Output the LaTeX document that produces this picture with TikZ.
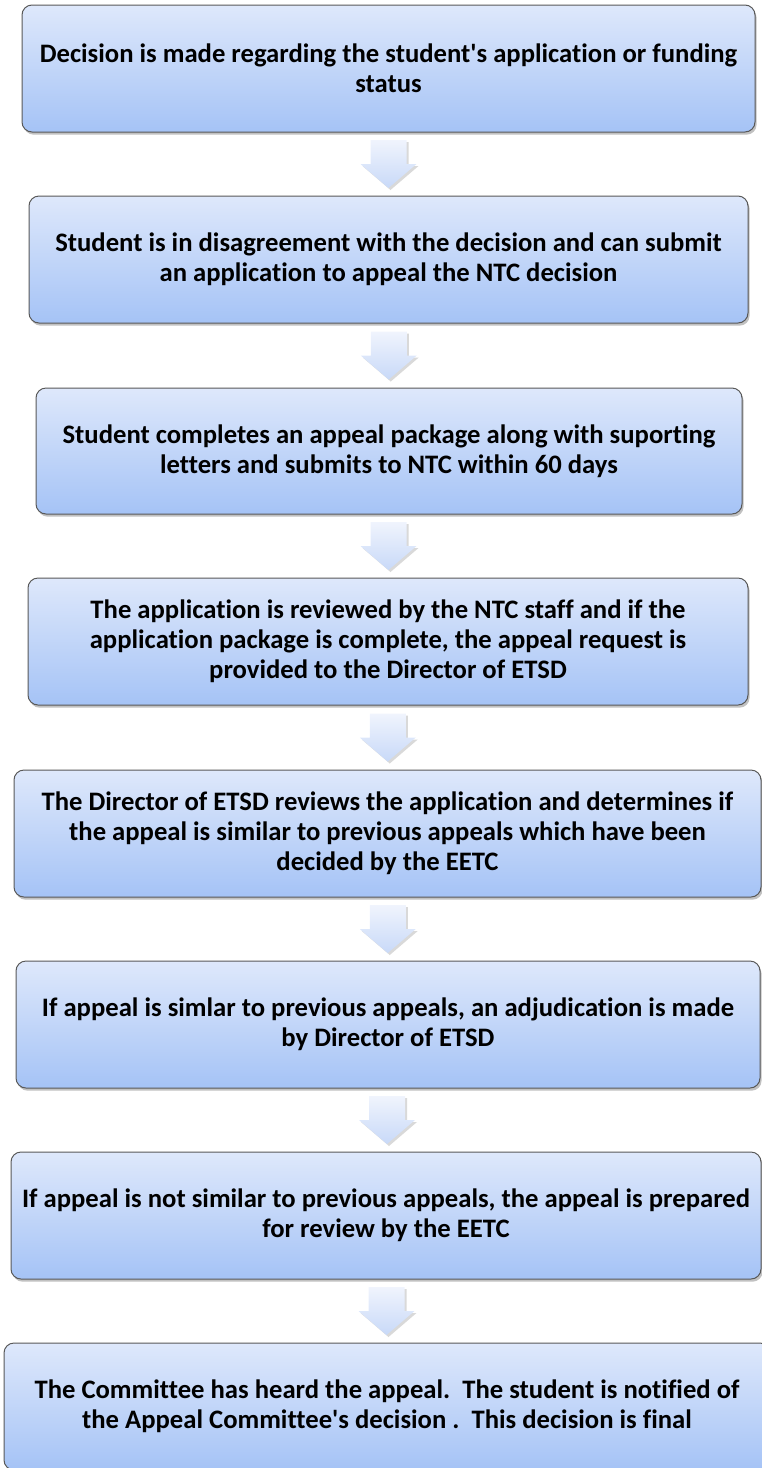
\documentclass[tikz,border=0pt]{standalone}
\usepackage{fontspec}
\setmainfont{Carlito}[Ligatures={TeX,NoCommon}]
\usetikzlibrary{calc,shadows}

\definecolor{boxtop}{HTML}{DEE8FB}
\definecolor{boxbot}{HTML}{A5C3F6}
\definecolor{arrtop}{HTML}{F0F4FD}
\definecolor{arrbot}{HTML}{C8D9F8}

\begin{document}
\begin{tikzpicture}[x=0.75pt,y=-0.75pt,
    stepbox/.style={draw=black!65,line width=0.75pt,rounded corners=7.5pt,
        top color=boxtop,bottom color=boxbot,
        drop shadow={shadow xshift=1.2pt,shadow yshift=-2pt,opacity=0.35,fill=black!70},
        align=center,inner sep=0pt,minimum height=95.25pt,
        font=\fontsize{20pt}{22.5pt}\selectfont\bfseries},
    dnarrow/.style={top color=arrtop,bottom color=arrbot,
        drop shadow={shadow xshift=1.5pt,shadow yshift=-1.5pt,opacity=0.25,fill=black!60}}]
        \useasboundingbox (0,0) rectangle (762,1468);

        \node[stepbox,minimum width=549.75pt] (b1) at (388.5,68.5)
            {Decision is made regarding the student\textquotesingle s application or funding\\status};
        \node[stepbox,minimum width=539.25pt] (b2) at (388.5,259.5)
            {Student is in disagreement with the decision and can submit\\an application to appeal the NTC decision};
        \node[stepbox,minimum width=529.5pt,minimum height=94.5pt] (b3) at (389,451)
            {Student completes an appeal package along with suporting\\letters and submits to NTC within 60 days};
        \node[stepbox,minimum width=540pt] (b4) at (388,641.5)
            {The application is reviewed by the NTC staff and if the\\application package is complete, the appeal request is\\provided to the Director of ETSD};
        \node[stepbox,minimum width=560.25pt] (b5) at (387.5,833.5)
            {The Director of ETSD reviews the application and determines if\\the appeal is similar to previous appeals which have been\\decided by the EETC};
        \node[stepbox,minimum width=558pt] (b6) at (388,1024.5)
            {If appeal is simlar to previous appeals, an adjudication is made\\by Director of ETSD};
        \node[stepbox,minimum width=562.5pt] (b7) at (386,1215.5)
            {If appeal is not similar to previous appeals, the appeal is prepared\\for review by the EETC};
        \node[stepbox,minimum width=574.5pt] (b8) at (387,1406.5)
            {The Committee has heard the appeal.\ \ The student is notified of\\the Appeal Committee\textquotesingle s decision .\ \ This decision is final};

        % block arrows between the steps
        \path[dnarrow] ($(b1.south)!0.5!(b2.north)$) ++(-18,-24) -- ++(36,0) -- ++(0,24) -- ++(10,0) -- ++(-28,24) -- ++(-28,-24) -- ++(10,0) -- cycle;
        \path[dnarrow] ($(b2.south)!0.5!(b3.north)$) ++(-18,-24) -- ++(36,0) -- ++(0,24) -- ++(10,0) -- ++(-28,24) -- ++(-28,-24) -- ++(10,0) -- cycle;
        \path[dnarrow] ($(b3.south)!0.5!(b4.north)$) ++(-18,-24) -- ++(36,0) -- ++(0,24) -- ++(10,0) -- ++(-28,24) -- ++(-28,-24) -- ++(10,0) -- cycle;
        \path[dnarrow] ($(b4.south)!0.5!(b5.north)$) ++(-18,-24) -- ++(36,0) -- ++(0,24) -- ++(10,0) -- ++(-28,24) -- ++(-28,-24) -- ++(10,0) -- cycle;
        \path[dnarrow] ($(b5.south)!0.5!(b6.north)$) ++(-18,-24) -- ++(36,0) -- ++(0,24) -- ++(10,0) -- ++(-28,24) -- ++(-28,-24) -- ++(10,0) -- cycle;
        \path[dnarrow] ($(b6.south)!0.5!(b7.north)$) ++(-18,-24) -- ++(36,0) -- ++(0,24) -- ++(10,0) -- ++(-28,24) -- ++(-28,-24) -- ++(10,0) -- cycle;
        \path[dnarrow] ($(b7.south)!0.5!(b8.north)$) ++(-18,-24) -- ++(36,0) -- ++(0,24) -- ++(10,0) -- ++(-28,24) -- ++(-28,-24) -- ++(10,0) -- cycle;

    \end{tikzpicture}
\end{document}
